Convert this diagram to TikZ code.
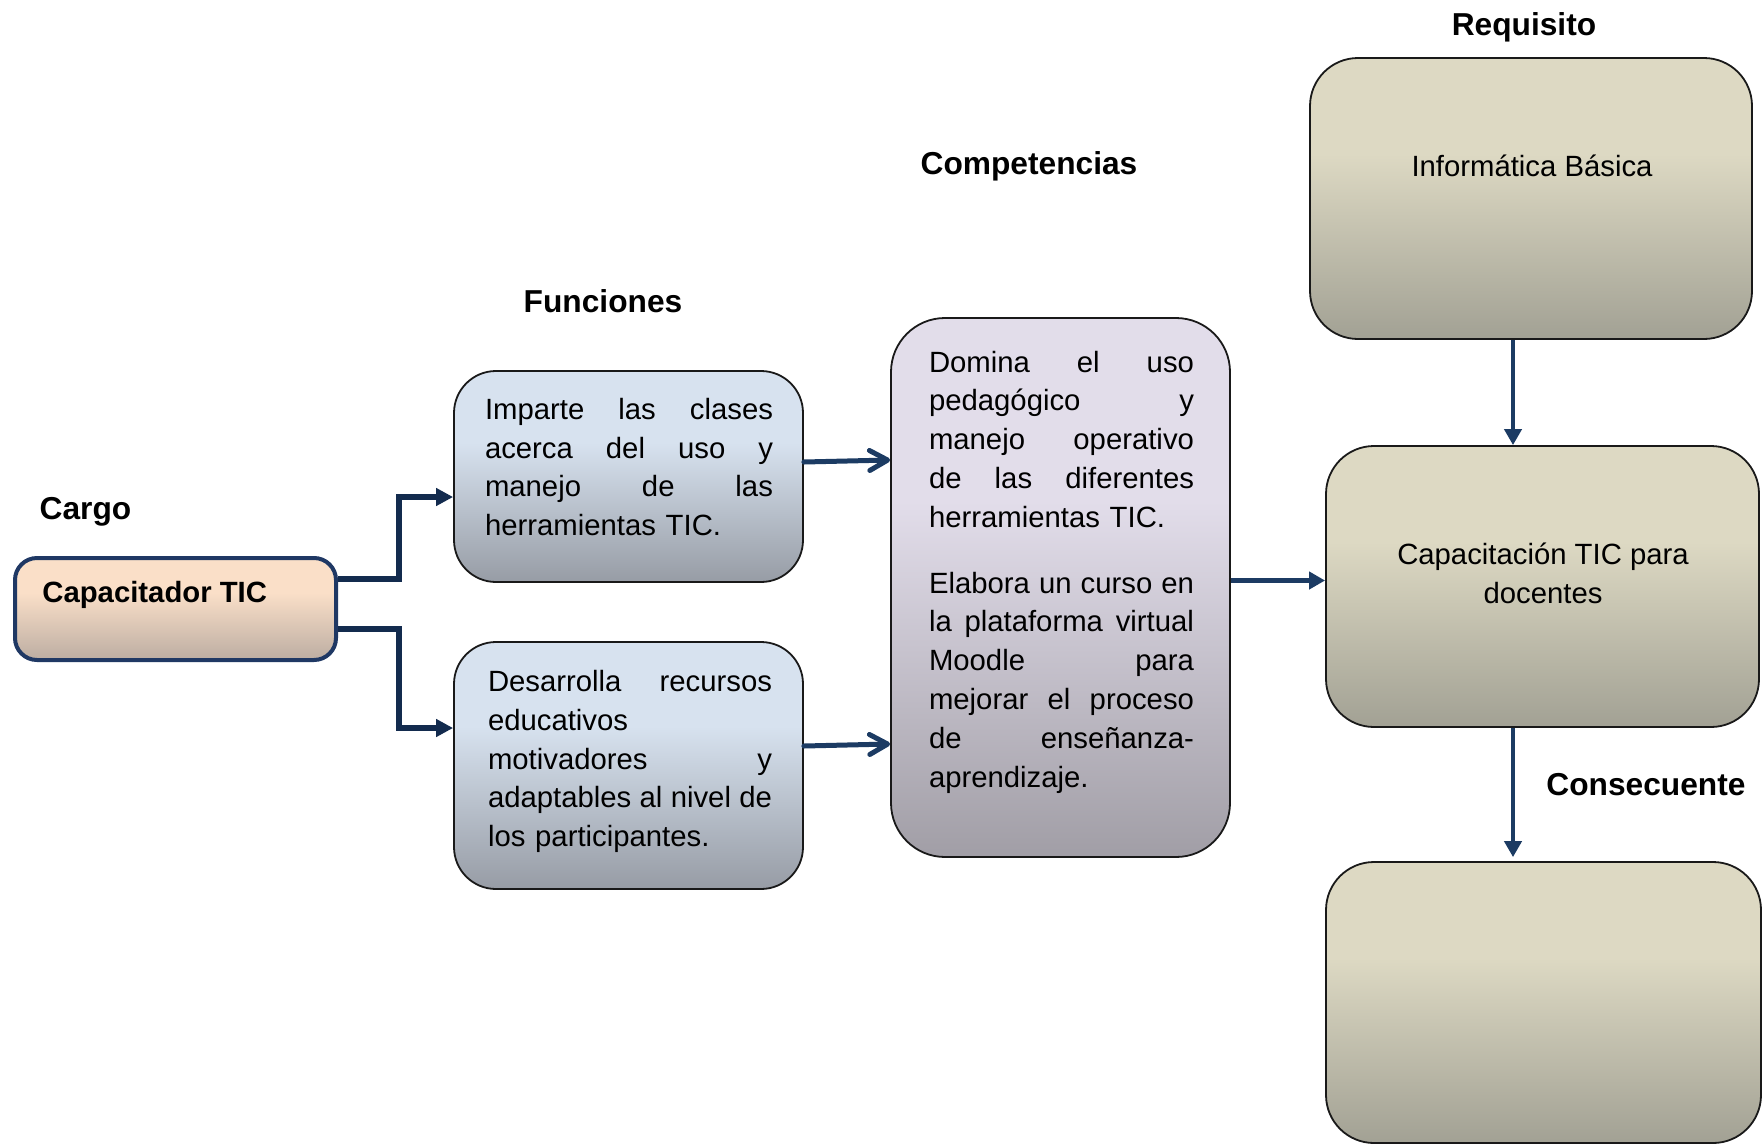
\documentclass[tikz,border=0pt]{standalone}
\usepackage{fontspec}
\setmainfont{Liberation Sans}
\usetikzlibrary{arrows.meta,calc}

\definecolor{navyA}{HTML}{132B4E}
\definecolor{navyB}{HTML}{1C3B63}
\definecolor{capBorder}{HTML}{1F3864}
\definecolor{capTop}{HTML}{FADFC8}
\definecolor{capBot}{HTML}{BCADA2}
\definecolor{funTop}{HTML}{D7E2EF}
\definecolor{funBot}{HTML}{979CA5}
\definecolor{comTop}{HTML}{E2DDEA}
\definecolor{comBot}{HTML}{A19EA6}
\definecolor{reqTop}{HTML}{DDD9C3}
\definecolor{reqBot}{HTML}{A2A194}

\colorlet{gtopc}{white}
\colorlet{gbotc}{gray}
\pgfdeclareverticalshading[gtopc,gbotc]{boxgrad}{100bp}{color(0bp)=(gbotc); color(25bp)=(gbotc); color(58bp)=(gtopc); color(100bp)=(gtopc)}

\newcommand\jline[1]{{\spaceskip=0pt\xspaceskip=0pt\makebox[\hsize][s]{#1}}}

\begin{document}
\begin{tikzpicture}[x=0.5pt,y=-0.5pt,
  grad/.code 2 args={\colorlet{gtopc}{#1}\colorlet{gbotc}{#2}},
  boxbase/.style={draw=black!90, line width=0.9pt, shade, shading=boxgrad, inner sep=0pt},
  txt/.style={font=\fontsize{14.65}{19.4}\selectfont, inner sep=0pt, align=left},
  head/.style={font=\fontsize{15.85}{19}\selectfont\bfseries, inner sep=0pt},
  elbow/.style={draw=navyA, line width=2.6pt, -{Triangle[length=8.5pt,width=8.5pt]}},
  chev/.style={draw=navyB, line width=2.5pt, line cap=round, -{Straight Barb[length=9pt,width=10pt,round]}},
  flow/.style={draw=navyB, line width=2.4pt, -{Triangle[length=8pt,width=8.5pt]}}
]
\path[use as bounding box, fill=white] (0,0) rectangle (1762,1146);

% boxes
\node[boxbase, grad={capTop}{capBot}, draw=capBorder, line width=2pt, rounded corners=11pt,
      minimum width=160.5pt, minimum height=51pt] (cap) at (175.5,609) {};
\node[boxbase, grad={funTop}{funBot}, rounded corners=21pt,
      minimum width=174.5pt, minimum height=105.5pt] (imp) at (628.5,476.5) {};
\node[boxbase, grad={funTop}{funBot}, rounded corners=21pt,
      minimum width=174.5pt, minimum height=123.5pt] (des) at (628.5,765.5) {};
\node[boxbase, grad={comTop}{comBot}, rounded corners=27pt,
      minimum width=169.5pt, minimum height=269.5pt] (comp) at (1060.5,587.5) {};
\node[boxbase, grad={reqTop}{reqBot}, rounded corners=24pt,
      minimum width=221pt, minimum height=140.5pt] (info) at (1531,198.5) {};
\node[boxbase, grad={reqTop}{reqBot}, rounded corners=24pt,
      minimum width=216.5pt, minimum height=140.5pt] (capa) at (1542.5,586.5) {};
\node[boxbase, grad={reqTop}{reqBot}, rounded corners=24pt,
      minimum width=217.5pt, minimum height=140.5pt] (cons) at (1543.5,1002.5) {};

% texts in boxes
\node[txt, anchor=west] (capT) at (42,594.5) {\bfseries Capacitador TIC};
\node[txt, text width=144pt] (impT) at (629,467)
  {\jline{Imparte las clases}\\ \jline{acerca del uso y}\\ \jline{manejo de las}\\ herramientas TIC.};
\node[txt, text width=142pt] (desT) at (630,761.5)
  {\jline{Desarrolla recursos}\\ educativos\\ \jline{motivadores y}\\ \jline{adaptables al nivel de}\\ los participantes.};
\node[txt, text width=132.5pt] (compT) at (1061.5,572)
  {\jline{Domina el uso}\\ \jline{pedagógico y}\\ \jline{manejo operativo}\\ \jline{de las diferentes}\\ herramientas TIC.\\[13.5pt]
   \jline{Elabora un curso en}\\ \jline{la plataforma virtual}\\ \jline{Moodle para}\\ \jline{mejorar el proceso}\\ \jline{de enseñanza-}\\ aprendizaje.};
\node[txt, align=center] (infoT) at (1532,166) {Informática Básica};
\node[txt, align=center] (capaT) at (1543,573) {Capacitación TIC para\\ docentes};

% headings
\node[head] (lCargo) at (85.5,512) {Cargo};
\node[head] (lFun) at (603,301) {Funciones};
\node[head] (lComp) at (1029,166) {Competencias};
\node[head] (lReq) at (1524,27) {Requisito};
\node[head] (lCons) at (1646,785) {Consecuente};

% connectors
\draw[elbow] ($(cap.east)+(0,-30)$) -- ++(61,0) |- ($(imp.west)+(0,20.5)$);
\draw[elbow] ($(cap.east)+(0,20)$) -- ++(61,0) |- ($(des.west)+(0,-37.5)$);
\draw[chev] ($(imp.east)+(0,-14.5)$) -- ($(comp.west)+(0,-127.5)$);
\draw[chev] ($(des.east)+(0,-19.5)$) -- ($(comp.west)+(0,156.5)$);
\draw[flow] ($(comp.east)+(0,-7)$) -- ($(capa.west)+(0,-6)$);
\draw[flow] ($(info.south)+(-18,0)$) -- ($(capa.north)+(-29.5,0)$);
\draw[flow, shorten >=2pt] ($(capa.south)+(-29.5,0)$) -- ($(cons.north)+(-30.5,0)$);
\end{tikzpicture}
\end{document}
